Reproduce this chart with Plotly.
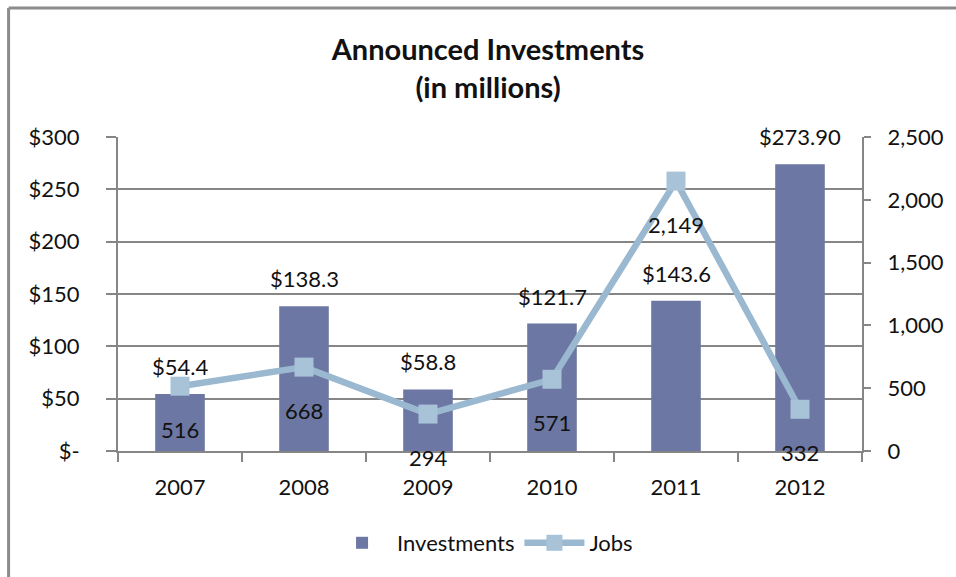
import plotly.graph_objects as go

# Announced investments and jobs by year
years = ["2007", "2008", "2009", "2010", "2011", "2012"]
investments = [54.4, 138.3, 58.8, 121.7, 143.6, 273.9]
investment_labels = ["$54.4", "$138.3", "$58.8", "$121.7", "$143.6", "$273.90"]
jobs = [516, 668, 294, 571, 2149, 332]
job_labels = ["516", "668", "294", "571", "2,149", "332"]

left_ticks = [0, 50, 100, 150, 200, 250, 300]
left_tick_text = ["$-", "$50", "$100", "$150", "$200", "$250", "$300"]
right_ticks = [0, 500, 1000, 1500, 2000, 2500]
right_tick_text = ["0", "500", "1,000", "1,500", "2,000", "2,500"]

FONT = "Lato"
FS = 22
BAR_COLOR = "#6C77A3"
LINE_COLOR = "#9AB8D0"
MARKER_COLOR = "#A8C3D8"
GRID = "#868686"

W, H = 956, 577
ML, MR, MT, MB = 118, 90, 137, 126
PW, PH = W - ML - MR, H - MT - MB

fig = go.Figure()
fig.add_trace(go.Bar(
    x=years, y=investments, name="Investments",
    marker=dict(color=BAR_COLOR, line=dict(width=0)),
    width=0.4, yaxis="y",
))
fig.add_trace(go.Scatter(
    x=years, y=jobs, name="Jobs", mode="lines+markers",
    line=dict(color=LINE_COLOR, width=6.5),
    marker=dict(symbol="square", size=19, color=MARKER_COLOR),
    yaxis="y2",
))

# value labels: category index positions on the x axis
annotations = []
for i, (v, t) in enumerate(zip(investments, investment_labels)):
    annotations.append(dict(x=i, y=v, xref="x", yref="y", text=t, showarrow=False,
                            yanchor="bottom", yshift=12,
                            font=dict(family=FONT, size=FS, color="#111")))
for i, (v, t) in enumerate(zip(jobs, job_labels)):
    annotations.append(dict(x=i, y=v, xref="x", yref="y2", text=t, showarrow=False,
                            yanchor="top", yshift=-28,
                            font=dict(family=FONT, size=FS, color="#111")))

# chart frame (top and left edges)
shapes = [
    dict(type="line", xref="paper", yref="paper",
         x0=(8 - ML) / PW, x1=(W + 5 - ML) / PW,
         y0=(H - MB - 8) / PH, y1=(H - MB - 8) / PH,
         line=dict(color="#8C8C8C", width=3)),
    dict(type="line", xref="paper", yref="paper",
         x0=(8 - ML) / PW, x1=(8 - ML) / PW,
         y0=(H - MB - 8) / PH, y1=(-MB - 5) / PH,
         line=dict(color="#8C8C8C", width=3)),
]

fig.update_layout(
    width=W, height=H,
    margin=dict(l=ML, r=MR, t=MT, b=MB),
    paper_bgcolor="white", plot_bgcolor="white",
    font=dict(family=FONT, size=FS, color="#111"),
    title=dict(text="<b>Announced Investments<br>(in millions)</b>",
               x=(ML + PW / 2 - 4) / W, xanchor="center", y=1 - 60 / H, yanchor="middle",
               font=dict(family=FONT, size=29, color="#111")),
    xaxis=dict(type="category", range=[-0.5, 5.5], autorange=False,
               showgrid=False, showline=True, linecolor=GRID, linewidth=2,
               ticks="outside", tickson="boundaries", ticklen=9, tickcolor=GRID, tickwidth=2,
               ticklabelstandoff=16, tickangle=0, tickfont=dict(size=FS)),
    yaxis=dict(range=[0, 300], tickvals=left_ticks, ticktext=left_tick_text,
               showgrid=True, gridcolor=GRID, gridwidth=2, zeroline=False,
               showline=True, linecolor=GRID, linewidth=2,
               ticks="outside", ticklen=10, tickcolor=GRID, tickwidth=2,
               ticklabelstandoff=22, tickfont=dict(size=FS)),
    yaxis2=dict(range=[0, 2500], tickvals=right_ticks, ticktext=right_tick_text,
                overlaying="y", side="right", showgrid=False, zeroline=False,
                showline=True, linecolor=GRID, linewidth=2,
                ticks="outside", ticklen=7, tickcolor=GRID, tickwidth=2,
                ticklabelstandoff=12, tickfont=dict(size=FS)),
    legend=dict(orientation="h", x=0.49, xanchor="center", y=-92 / PH, yanchor="middle",
                font=dict(size=FS), itemwidth=60, tracegroupgap=0, entrywidth=0),
    bargap=0.6,
    annotations=annotations,
    shapes=shapes,
    showlegend=True,
)

fig.write_html("out.html")
